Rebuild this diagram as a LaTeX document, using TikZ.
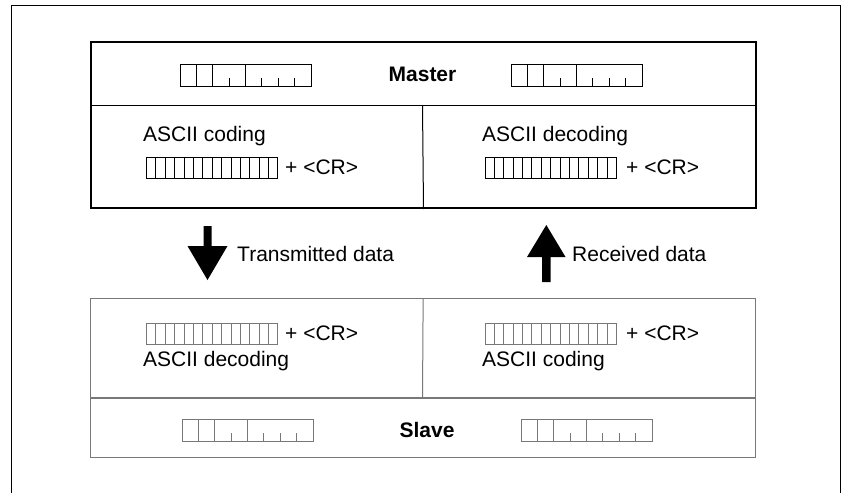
\documentclass[tikz,border=0pt]{standalone}
\usepackage{fontspec}
\setmainfont{Liberation Sans}
\definecolor{slavegray}{RGB}{120,120,120}
\begin{document}
\begin{tikzpicture}[x=1pt,y=-1pt,
  txt/.style={inner sep=0pt,font=\fontsize{21}{24}\selectfont},
  btxt/.style={inner sep=0pt,font=\fontsize{21}{24}\selectfont\bfseries},
  reg/.pic={
    \draw (0,0) rectangle (131,22);
    \foreach \u in {1,2,4} \draw ({\u*16.375},0) -- ({\u*16.375},22);
    \foreach \u in {3,5,6,7} \draw ({\u*16.375},22) -- ({\u*16.375},13.6);
  },
  cells/.pic={
    \draw (0,0) rectangle (131.4,21);
    \foreach \i in {1,...,13} \draw ({\i*131.4/14},0) -- ({\i*131.4/14},21);
  },
  blockarrow/.style={fill=black,draw=none}
]
\useasboundingbox (0,0) rectangle (848,493);
% outer frame (open at the bottom)
\draw[line width=1.3pt] (11.5,493) -- (11.5,5.5) -- (840.5,5.5) -- (840.5,493);

% ---------- Master ----------
\node[draw,line width=2pt,minimum width=665pt,minimum height=166pt,anchor=north west,inner sep=0pt] (master) at (90,41) {};
\coordinate (mdl) at (90,105.5);
\coordinate (mdr) at (755,105.5);
\draw[line width=1.2pt] (mdl) -- (mdr);
\coordinate (mvt) at (422.5,105.5);
\draw[line width=1pt] (mvt) -- (master.south);
\pic[line width=1pt] at (180,64) {reg};
\pic[line width=1pt] at (511,64) {reg};
\node[btxt,anchor=base] (mtitle) at (422.5,81) {Master};
\node[txt,anchor=base west] (mcod) at (143,141) {ASCII coding};
\pic[line width=0.9pt] at (146.5,157) {cells};
\node[txt,anchor=base west] (mcr1) at (285,174) {+ <CR>};
\node[txt,anchor=base west] (mdec) at (482,141) {ASCII decoding};
\pic[line width=0.9pt] at (485,157) {cells};
\node[txt,anchor=base west] (mcr2) at (626,174) {+ <CR>};

% ---------- arrows ----------
\fill[blockarrow] (203.5,226) -- (211.5,226) -- (211.5,246) -- (227.5,246) -- (207.5,280) -- (187.5,246) -- (203.5,246) -- cycle;
\node[txt,anchor=base west] (tx) at (237,261) {Transmitted data};
\fill[blockarrow] (542,282) -- (550.5,282) -- (550.5,257) -- (565.5,257) -- (546.3,225) -- (527,257) -- (542,257) -- cycle;
\node[txt,anchor=base west] (rx) at (572,261) {Received data};

% ---------- Slave ----------
\node[draw=slavegray,line width=1.3pt,minimum width=665pt,minimum height=159pt,anchor=north west,inner sep=0pt] (slave) at (90,298) {};
\coordinate (sdl) at (90,398);
\coordinate (sdr) at (755,398);
\draw[slavegray,line width=1.2pt] (sdl) -- (sdr);
\coordinate (svb) at (422.5,398);
\draw[slavegray,line width=1pt] (slave.north) -- (svb);
\pic[slavegray,line width=0.9pt] at (146.5,323) {cells};
\node[txt,anchor=base west] (scr1) at (285,340) {+ <CR>};
\node[txt,anchor=base west] (sdec) at (143,366) {ASCII decoding};
\pic[slavegray,line width=0.9pt] at (485,323) {cells};
\node[txt,anchor=base west] (scr2) at (626,340) {+ <CR>};
\node[txt,anchor=base west] (scod) at (482,366) {ASCII coding};
\pic[slavegray,line width=1pt] at (182,419) {reg};
\pic[slavegray,line width=1pt] at (521,419) {reg};
\node[btxt,anchor=base] (stitle) at (427,437) {Slave};
\end{tikzpicture}
\end{document}
